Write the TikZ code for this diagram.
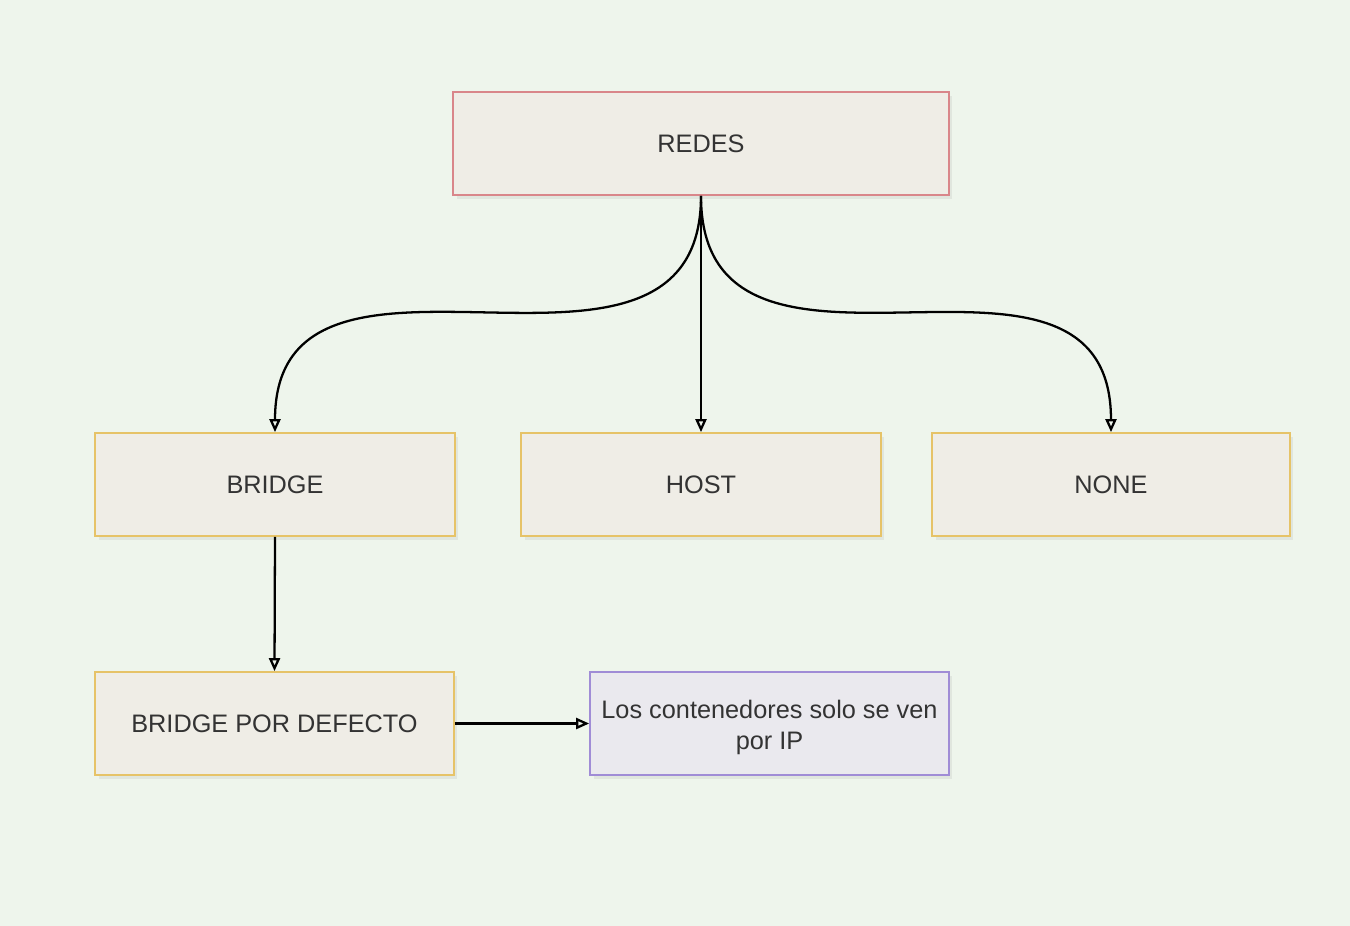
\documentclass[tikz,border=0pt]{standalone}
\usepackage{fontspec}
\setmainfont{Liberation Sans}
\usepackage{xcolor}
\usepackage{tikz}
\usetikzlibrary{positioning, arrows.meta, shadows}

\definecolor{bgcolor}{HTML}{EEF5EC}
\definecolor{boxfill}{HTML}{EFEDE6}
\definecolor{notefill}{HTML}{EAE9EE}
\definecolor{redline}{HTML}{D9868A}
\definecolor{yellowline}{HTML}{E6C368}
\definecolor{purpleline}{HTML}{A08CD6}
\definecolor{textgray}{HTML}{333333}

\tikzset{
    netbox/.style={draw=yellowline, line width=1pt, fill=boxfill,
        minimum width=7.2cm, minimum height=2.06cm, inner sep=0pt,
        text=textgray, font=\fontsize{14.4}{17.6}\selectfont,
        drop shadow={opacity=0.12, shadow xshift=2pt, shadow yshift=-2pt}},
    link/.style={line width=1.3pt, -{Triangle[open, length=0.26cm, width=0.22cm]}}
}

\begin{document}
\begin{tikzpicture}[x=0.02cm, y=-0.02cm]
        % Background
        \fill[bgcolor] (0,0) rectangle (1350,926);
        \useasboundingbox (0,0) rectangle (1350,926);

        % Top node
        \node[netbox, draw=redline, minimum width=9.92cm] (redes) at (701,143.5) {REDES};

        % Network types
        \node[netbox] (bridge) at (275,484.5) {BRIDGE};
        \node[netbox] (host) at (701,484.5) {HOST};
        \node[netbox, minimum width=7.16cm] (none) at (1111,484.5) {NONE};

        % Default bridge and note
        \node[netbox, minimum width=7.18cm] (defbridge) at (274.5,723.5) {BRIDGE POR DEFECTO};
        \node[netbox, draw=purpleline, fill=notefill, minimum width=7.18cm] (note) at (769.5,723.5)
            {\raisebox{-2.3pt}[\height][\depth]{\begin{tabular}{@{}c@{}}Los contenedores solo se ven\\por IP\end{tabular}}};

        % Connectors
        \draw[link] (redes.south) to[out=-90, in=90, looseness=1.25] (bridge.north);
        \draw[link] (redes.south) -- (host.north);
        \draw[link] (redes.south) to[out=-90, in=90, looseness=1.28] (none.north);
        \draw[link] (bridge.south) -- (defbridge.north);
        \draw[link] (defbridge.east) -- (note.west);

\end{tikzpicture}
\end{document}
